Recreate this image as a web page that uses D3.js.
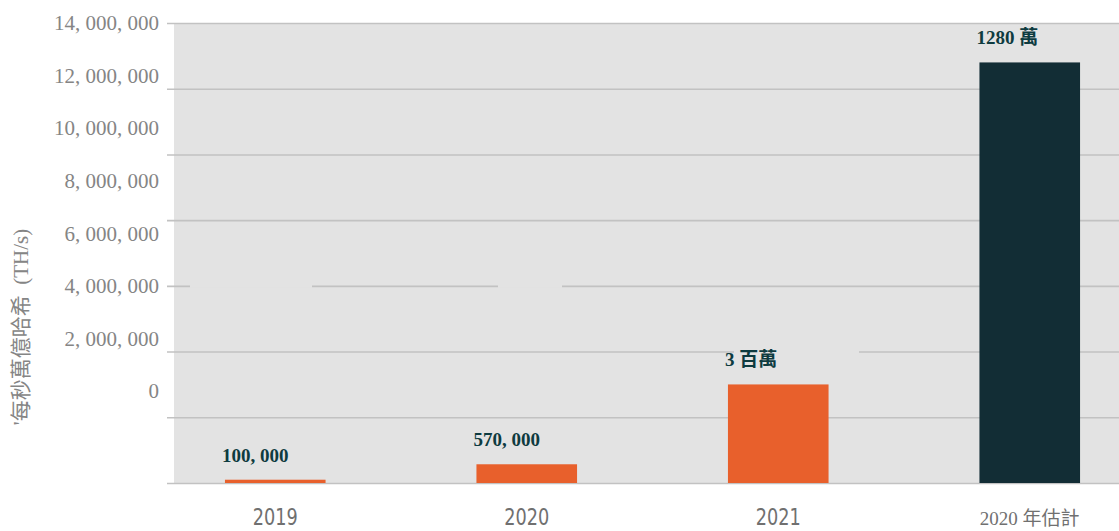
<!doctype HTML>
<html>
<head>
  <meta charset="utf-8">
  <script type="text/javascript" src="https://cdn.jsdelivr.net/npm/d3@7"></script>
  <style>
    body { margin: 0; background: #fff; }
  </style>
</head>
<body>

<div id="chart"></div>

<script>

// data
var categories = ["2019", "2020", "2021", "2020 年估計"];
var hashrate = [100000, 570000, 3000000, 12800000];
var valueLabels = ["100, 000", "570, 000", "3 百萬", "1280 萬"];
var barColors = ["#e8602c", "#e8602c", "#e8602c", "#122d35"];
var tickValues = [0, 2000000, 4000000, 6000000, 8000000, 10000000, 12000000, 14000000];
var yTitle = "'每秒萬億哈希  (TH/s)";

var width = 1119,
  height = 531;

var svg = d3.select("#chart").append("svg")
  .attr("width", width)
  .attr("height", height);

var plotLeft = 174, plotTop = 23, plotBottom = 483;

var y = d3.scaleLinear().domain([0, 14000000]).range([plotBottom, plotTop]);
// tick labels in the original sit on their own spacing, not on the gridlines
var yLabel = d3.scaleLinear().domain([0, 14000000]).range([391, 23]);

var x = d3.scaleBand().domain(categories)
  .range([149.5, 1155.5])
  .paddingInner(0.6)
  .paddingOuter(0.3);

// grey plot background
svg.append("rect")
  .attr("x", plotLeft).attr("y", plotTop)
  .attr("width", width - plotLeft).attr("height", plotBottom - plotTop)
  .attr("fill", "#e3e3e3");

// gridlines
svg.append("g")
  .attr("transform", "translate(" + width + ",0)")
  .call(d3.axisLeft(y).tickValues(tickValues).tickSize(width - 167).tickFormat(""))
  .call(g => g.select(".domain").remove())
  .call(g => g.selectAll("line").attr("stroke", "#c2c2c2").attr("stroke-width", 1.6));

// little breaks in two gridlines
var gaps = [[6000000, 190, 312], [6000000, 498, 562], [4000000, 734, 859]];
svg.selectAll("rect.gap").data(gaps).enter().append("rect")
  .attr("class", "gap")
  .attr("x", d => d[1]).attr("width", d => d[2] - d[1])
  .attr("y", d => y(d[0]) - 2).attr("height", 4)
  .attr("fill", d => d[1] < plotLeft ? "#fff" : "#e3e3e3");

// tick labels
var fmt = d3.format(",");
svg.append("g")
  .attr("transform", "translate(159,0)")
  .call(d3.axisLeft(yLabel).tickValues(tickValues).tickSize(0)
    .tickFormat(d => fmt(d).replace(/,/g, ", ")))
  .call(g => g.select(".domain").remove())
  .call(g => g.selectAll("text")
    .attr("x", 0)
    .attr("fill", "#858585")
    .attr("font-family", "'Liberation Serif', 'DejaVu Serif', serif")
    .attr("font-size", 21));

// y title
svg.append("text")
  .attr("transform", "translate(28,327) rotate(-90)")
  .attr("text-anchor", "middle")
  .attr("fill", "#858585")
  .attr("font-family", "'Liberation Serif', 'Noto Sans CJK TC', serif")
  .attr("font-size", 21)
  .attr("xml:space", "preserve")
  .style("white-space", "pre")
  .text(yTitle);

// bars
svg.selectAll("rect.bar").data(hashrate).enter().append("rect")
  .attr("class", "bar")
  .attr("x", (d, i) => x(categories[i]))
  .attr("width", x.bandwidth())
  .attr("y", d => y(d))
  .attr("height", d => plotBottom - y(d))
  .attr("fill", (d, i) => barColors[i]);

// value labels
svg.selectAll("text.val").data(hashrate).enter().append("text")
  .attr("class", "val")
  .attr("x", (d, i) => x(categories[i]) - 3)
  .attr("y", d => y(d) - 18)
  .attr("fill", "#0e3b40")
  .attr("font-weight", "bold")
  .attr("font-family", "'Liberation Serif', 'Noto Sans CJK TC', serif")
  .attr("font-size", 19)
  .text((d, i) => valueLabels[i]);

// category labels
svg.selectAll("text.cat").data(categories).enter().append("text")
  .attr("class", "cat")
  .attr("x", d => x(d) + x.bandwidth() / 2)
  .attr("y", 525)
  .attr("text-anchor", "middle")
  .attr("fill", "#707070")
  .attr("font-family", (d, i) => i < 3
    ? "'Liberation Sans Narrow', 'DejaVu Sans Condensed', sans-serif"
    : "'Liberation Serif', 'Noto Sans CJK TC', serif")
  .attr("font-size", (d, i) => i < 3 ? 23 : 19)
  .attr("textLength", (d, i) => i < 3 ? 45 : null)
  .attr("lengthAdjust", "spacingAndGlyphs")
  .text(d => d);

</script>

</body>
</html>
